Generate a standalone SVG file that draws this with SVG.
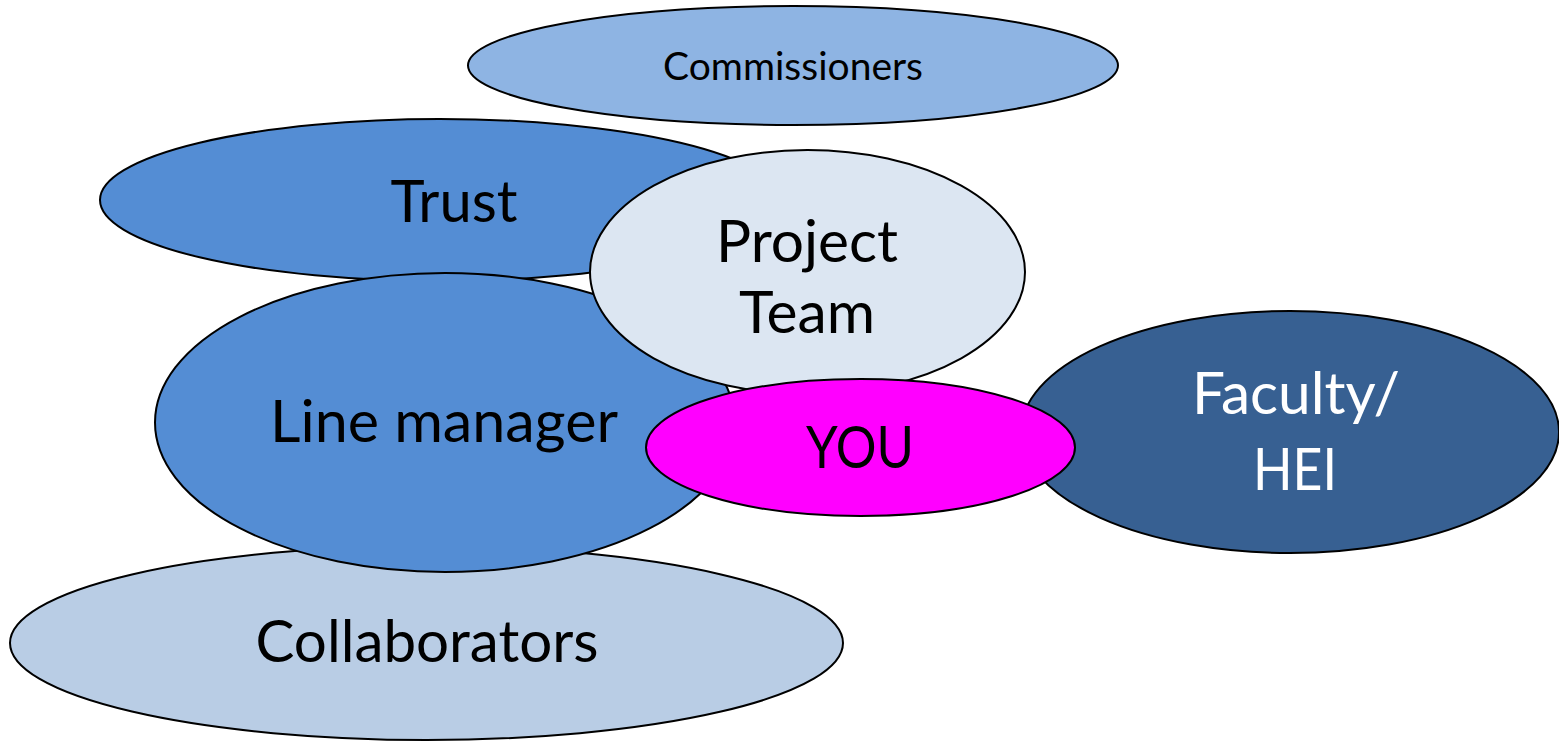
<svg xmlns="http://www.w3.org/2000/svg" width="1559" height="741" viewBox="0 0 1559 741">
<style>
ellipse{stroke:#000;stroke-width:2}
text{font-family:Lato,"Open Sans","Liberation Sans",sans-serif;text-anchor:middle;fill:#000}
.big{font-size:58px}
.w{fill:#fff}
</style>
<rect width="1559" height="741" fill="#fff"/>
<g id="commissioners"><ellipse cx="793" cy="65.5" rx="325" ry="59.5" fill="#8EB4E3"/><text x="793" y="80" font-size="38" textLength="260" lengthAdjust="spacingAndGlyphs">Commissioners</text></g>
<g id="trust"><ellipse cx="440" cy="200" rx="340" ry="81" fill="#548DD4"/><text class="big" x="454" y="222" textLength="127" lengthAdjust="spacingAndGlyphs">Trust</text></g>
<g id="collaborators"><ellipse cx="426.5" cy="643" rx="416.5" ry="97" fill="#B9CDE5"/><text class="big" x="427" y="662" textLength="343" lengthAdjust="spacingAndGlyphs">Collaborators</text></g>
<g id="line-manager"><ellipse cx="445" cy="422.5" rx="290" ry="149.5" fill="#548DD4"/><text class="big" x="444" y="442" textLength="348" lengthAdjust="spacingAndGlyphs">Line manager</text></g>
<g id="project-team"><ellipse cx="807.5" cy="272" rx="217.5" ry="122" fill="#DCE6F2"/><text class="big" x="807" y="262" textLength="182" lengthAdjust="spacingAndGlyphs">Project</text><text class="big" x="807" y="333" textLength="136" lengthAdjust="spacingAndGlyphs">Team</text></g>
<g id="faculty"><ellipse cx="1290" cy="432" rx="269" ry="121" fill="#376092"/><text class="big w" x="1296" y="414" textLength="208" lengthAdjust="spacingAndGlyphs">Faculty/</text><text class="big w" x="1295" y="490" textLength="84" lengthAdjust="spacingAndGlyphs">HEI</text></g>
<g id="you"><ellipse cx="860.5" cy="447.5" rx="214.5" ry="68.5" fill="#FF00FF"/><text class="big" x="860" y="468" textLength="108" lengthAdjust="spacingAndGlyphs">YOU</text></g>
<g id="connectors"/>
</svg>
